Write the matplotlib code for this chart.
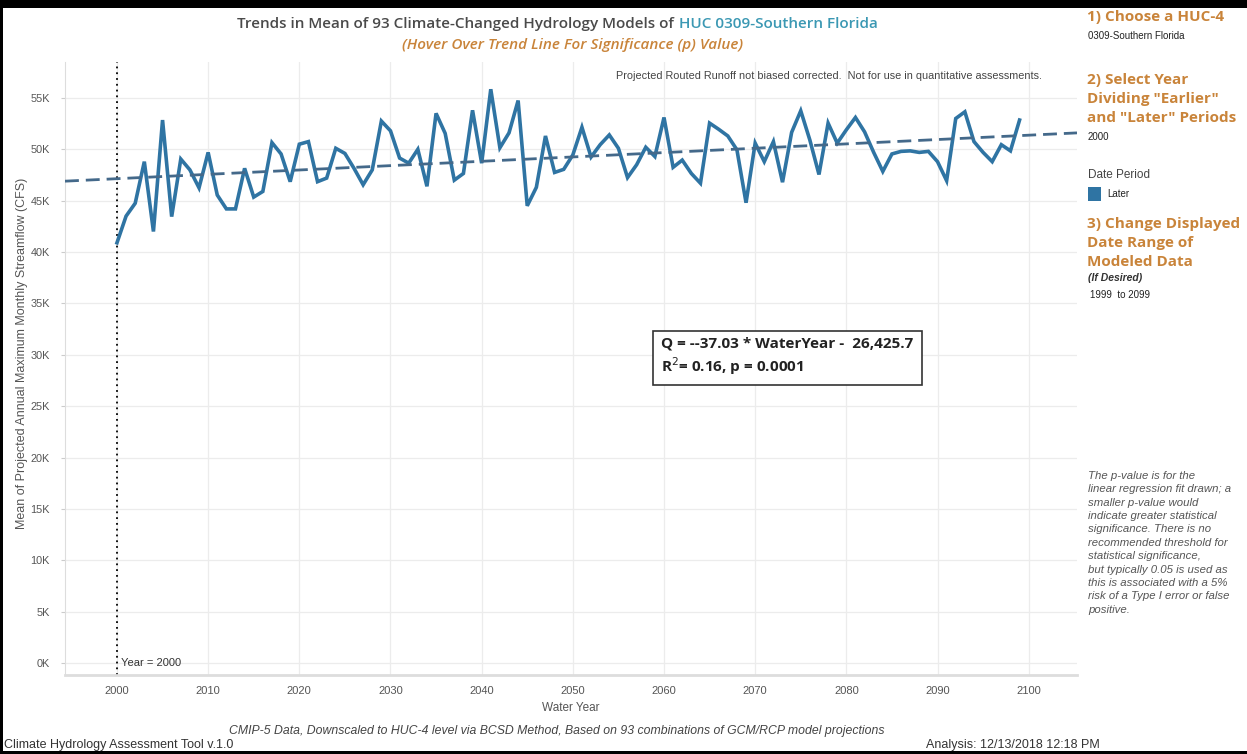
import numpy as np
import matplotlib.pyplot as plt
from matplotlib.patches import Rectangle

# mean of projected annual max monthly streamflow (CFS)
years = list(range(2000, 2100))
flow = [40900, 43500, 44750, 48800, 42000, 52850, 43450, 49050, 48000, 46250,
        49700, 45550, 44200, 44200, 48150, 45350, 45900, 50650, 49550, 46850,
        50500, 50750, 46850, 47200, 50100, 49600, 48150, 46550, 48000, 52750,
        51800, 49150, 48650, 50000, 46400, 53500, 51550, 47000, 47650, 53800,
        48650, 55850, 50150, 51600, 54750, 44500, 46300, 51300, 47750, 48050,
        49450, 52150, 49250, 50450, 51400, 50100, 47250, 48500, 50200, 49300,
        53100, 48250, 48950, 47650, 46700, 52550, 51950, 51300, 49950, 44800,
        50600, 48800, 50750, 46800, 51650, 53750, 50900, 47550, 52550, 50600,
        51900, 53100, 51700, 49700, 47850, 49550, 49800, 49850, 49700, 49800,
        48800, 46950, 53000, 53650, 50750, 49700, 48800, 50450, 49850, 52850]

# trend line ends as drawn
trend_years = [1994.3, 2105.3]
trend_vals = [46900, 51600]

xticks = list(range(2000, 2101, 10))
yticks = list(range(0, 55001, 5000))
ytick_labels = [f"{v // 1000}K" for v in yticks]

W, H = 1247, 754
fig = plt.figure(figsize=(W / 100, H / 100), dpi=100)
ax = fig.add_axes([65 / W, 1 - 675 / H, 1012 / W, 613 / H])

line_col = "#2f74a3"
ax.plot(years, flow, color=line_col, linewidth=2.6, solid_joinstyle="miter", zorder=3)
ax.plot(trend_years, trend_vals, color="#44698a", linewidth=2.0, linestyle=(0, (5, 2.5)), zorder=4)
ax.axvline(2000, color="black", linestyle=(0, (1, 2.2)), linewidth=1.3, zorder=2)
ax.text(2000.4, 0, "Year = 2000", fontsize=8, color="#333333", va="center", ha="left",
        family="Liberation Sans")

ax.set_xlim(1994.3, 2105.3)
ax.set_ylim(-1170, 58500)
ax.set_xticks(xticks)
ax.set_yticks(yticks)
ax.set_yticklabels(ytick_labels)
ax.grid(True, color="#ececec", linewidth=0.9, zorder=0)
ax.tick_params(axis="x", length=0, labelsize=8, colors="#555555", pad=8)
ax.tick_params(axis="y", length=3, width=0.8, color="#cccccc", labelcolor="#555555",
               labelsize=7.8, pad=8)
for lab in ax.get_xticklabels() + ax.get_yticklabels():
    lab.set_family("Liberation Sans")
for s in ["top", "right"]:
    ax.spines[s].set_visible(False)
ax.spines["left"].set_color("#dddddd")
ax.spines["bottom"].set_color("#dddddd")
ax.spines["bottom"].set_linewidth(2)

ax.set_xlabel("Water Year", fontsize=8.5, color="#555555", family="Liberation Sans", labelpad=4)
ax.set_ylabel("Mean of Projected Annual Maximum Monthly Streamflow (CFS)", fontsize=9,
              color="#555555", family="Liberation Sans")
ax.yaxis.set_label_coords(-0.037, 0.525)

ax.text(0.965, 0.985, "Projected Routed Runoff not biased corrected.  Not for use in quantitative assessments.",
        transform=ax.transAxes, fontsize=7.8, color="#444444", ha="right", va="top",
        family="Liberation Sans")

ax.text(0.589, 0.519, "Q = --37.03 * WaterYear -  26,425.7\nR$^2$= 0.16, p = 0.0001",
        transform=ax.transAxes, fontsize=11, fontweight="bold", color="#222222",
        ha="left", va="center", linespacing=1.25, family="Open Sans",
        bbox=dict(facecolor="white", edgecolor="#333333", linewidth=1.2, pad=6))

def ftext(x, y, s, **kw):
    fig.text(x / W, 1 - y / H, s, va="center", **kw)

# title
ftext(674, 24, "Trends in Mean of 93 Climate-Changed Hydrology Models of", ha="right",
      fontsize=11, color="#4a4a4a", fontweight="semibold", family="Open Sans")
ftext(679, 24, "HUC 0309-Southern Florida", ha="left", fontsize=11, color="#3b98b3",
      fontweight="semibold", family="Open Sans")
ftext(573, 45, "(Hover Over Trend Line For Significance (p) Value)", ha="center",
      fontsize=11, color="#c9843a", style="italic", fontweight="semibold", family="Open Sans")

# right panel
orange = "#c9843a"
hd = dict(ha="left", fontsize=11, color=orange, fontweight="bold", family="Open Sans")
sm = dict(ha="left", fontsize=7, color="#222222", family="Liberation Sans")
ftext(1087, 17, "1) Choose a HUC-4", **hd)
ftext(1088, 36, "0309-Southern Florida", **sm)
ftext(1087, 80, "2) Select Year", **hd)
ftext(1087, 99, 'Dividing "Earlier"', **hd)
ftext(1087, 118, 'and "Later" Periods', **hd)
ftext(1088, 137, "2000", **sm)
ftext(1088, 175, "Date Period", ha="left", fontsize=8.5, color="#444444", family="Liberation Sans")
fig.patches.append(Rectangle((1088 / W, 1 - 201 / H), 13 / W, 14 / H, transform=fig.transFigure,
                             facecolor=line_col, edgecolor="none"))
ftext(1107, 194, "Later", **sm)
ftext(1087, 224, "3) Change Displayed", **hd)
ftext(1087, 243, "Date Range of", **hd)
ftext(1087, 262, "Modeled Data", **hd)
ftext(1088, 278, "(If Desired)", ha="left", fontsize=7.5, color="#333333", style="italic",
      fontweight="bold", family="Liberation Sans")
ftext(1090, 295, "1999  to 2099", **sm)

note = ("The p-value is for the\nlinear regression fit drawn; a\nsmaller p-value would\n"
        "indicate greater statistical\nsignificance. There is no\nrecommended threshold for\n"
        "statistical significance,\nbut typically 0.05 is used as\nthis is associated with a 5%\n"
        "risk of a Type I error or false\npositive.")
fig.text(1088 / W, 1 - 471 / H, note, ha="left", va="top", fontsize=8.2, color="#555555",
         style="italic", family="Liberation Sans", linespacing=1.42)

# footer
ftext(557, 731, "CMIP-5 Data, Downscaled to HUC-4 level via BCSD Method, Based on 93 combinations of GCM/RCP model projections",
      ha="center", fontsize=8.8, color="#444444", style="italic", family="Liberation Sans")
ftext(4, 745, "Climate Hydrology Assessment Tool v.1.0", ha="left", fontsize=9,
      color="#333333", family="Liberation Sans")
ftext(1100, 745, "Analysis: 12/13/2018 12:18 PM", ha="right", fontsize=9,
      color="#333333", family="Liberation Sans")

# black frame of the screenshot
for (x0, y0, w, h) in [(0, 0, W, 8), (0, 0, 3, H), (0, H - 3, W, 3)]:
    fig.patches.append(Rectangle((x0 / W, 1 - (y0 + h) / H), w / W, h / H,
                                 transform=fig.transFigure, facecolor="black", edgecolor="none"))

fig.savefig("out.png", dpi=100)
